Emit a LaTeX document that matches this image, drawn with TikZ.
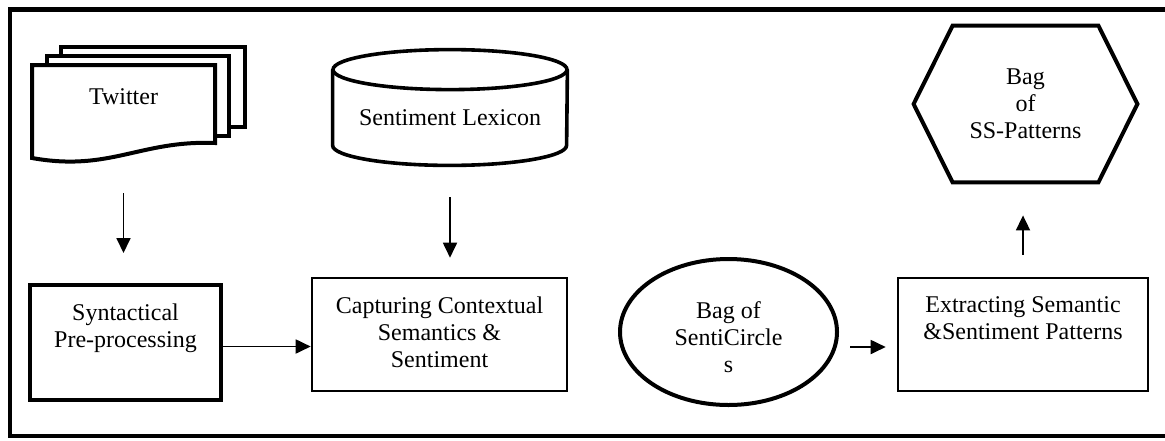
\documentclass[tikz,border=0pt]{standalone}
\usepackage{fontspec}
\setmainfont{Liberation Serif}
\usetikzlibrary{arrows.meta,positioning,shapes.geometric}

\begin{document}
\begin{tikzpicture}[x=0.5pt,y=-0.5pt,
  every node/.style={font=\fontsize{12}{13.5}\selectfont,align=center,inner sep=0pt},
  thickbox/.style={draw,line width=2pt,minimum height=57.5pt},
  thinbox/.style={draw,line width=1.3pt,minimum height=56.5pt},
  arr/.style={line width=0.9pt,-{Triangle[length=7.5pt,width=7pt]}}]
\useasboundingbox (0,0) rectangle (1165,440);
\draw[line width=2.2pt] (1165,9.5) -- (10,9.5) -- (10,436) -- (1165,436);
% stacked pages
\draw[line width=2pt,fill=white] (61,47) rectangle (245,127);
\draw[line width=2pt,fill=white] (47,56) rectangle (229,136);
\draw[line width=2pt,fill=white] (32,65) -- (215,65) -- (215,143) .. controls (140,140) and (110,172) .. (32,158) -- cycle;
\node[minimum width=91.5pt,minimum height=46.5pt,label={[yshift=7.25pt]center:Twitter}] (twit) at (123.5,111.5) {};
\node[thickbox,minimum width=95.5pt,label={[yshift=7pt]center:{Syntactical\\Pre-processing}}] (synt) at (125.5,342.5) {};
\node[thinbox,minimum width=127.5pt,label={[yshift=1.25pt]center:{Capturing Contextual\\Semantics \&\\Sentiment}}] (capt) at (439.5,334.5) {};
\node[minimum width=117pt,minimum height=57.5pt,label={[yshift=-5.25pt]center:Sentiment Lexicon}] (lex) at (450,107.5) {};
\draw[line width=1.8pt] ([yshift=-10pt]lex.north west) -- ([yshift=10pt]lex.south west) arc[start angle=180,end angle=360,x radius=58.5pt,y radius=10pt] -- ([yshift=-10pt]lex.north east);
\draw[line width=1.8pt] ([yshift=-10pt]lex.north) ellipse[x radius=58.5pt,y radius=10pt];
\node[draw,ellipse,line width=2pt,minimum width=108.5pt,minimum height=73pt,label={[yshift=-2.75pt]center:{Bag of\\SentiCircle\\s}}] (bag) at (728.5,332) {};
\node[thinbox,minimum width=125pt,label={[yshift=8pt]center:{Extracting Semantic\\\&Sentiment Patterns}}] (extr) at (1023,334.5) {};
\node[minimum width=111.5pt,minimum height=78pt] (hexa) at (1025.5,104) {Bag\\of\\SS-Patterns};
\draw[line width=2pt] ([xshift=19.5pt]hexa.north west) -- ([xshift=-19.5pt]hexa.north east) -- (hexa.east) -- ([xshift=-19.5pt]hexa.south east) -- ([xshift=19.5pt]hexa.south west) -- (hexa.west) -- cycle;
% connectors
\draw[arr,shorten <=17.5pt,shorten >=15pt] (twit.south) -- (twit.south |- synt.north);
\draw[arr,shorten <=16pt,shorten >=9.5pt] (lex.south) -- (lex.south |- capt.north);
\draw[arr] ([yshift=-2pt]synt.east) -- ([yshift=-2pt]synt.east -| capt.west);
\draw[arr,shorten <=5.5pt,shorten >=5.5pt] ([yshift=-7.5pt]bag.east) -- ([yshift=-7.5pt]bag.east -| extr.west);
\draw[arr,shorten <=11pt,shorten >=16.5pt] (extr.north) -- (extr.north |- hexa.south);
\end{tikzpicture}
\end{document}
